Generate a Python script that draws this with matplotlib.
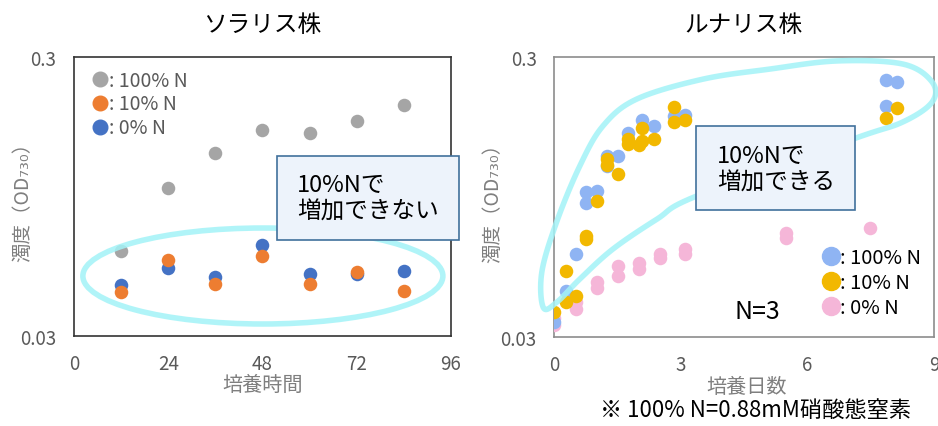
import numpy as np
import matplotlib
matplotlib.use("Agg")
import matplotlib.pyplot as plt
from matplotlib.patches import Ellipse, Rectangle, Polygon
from matplotlib.lines import Line2D

plt.rcParams['font.family'] = ['Noto Sans CJK JP', 'DejaVu Sans']

# ---- left chart: ソラリス株 (hours) ----
sol_hours = [12, 24, 36, 48, 60, 72, 84]
sol_100n = [0.0605, 0.102, 0.1356, 0.1647, 0.160, 0.177, 0.202]
sol_10n = [0.0430, 0.0563, 0.0460, 0.0579, 0.0460, 0.0510, 0.0435]
sol_0n = [0.0458, 0.0527, 0.0487, 0.0636, 0.0500, 0.0500, 0.0515]

# ---- right chart: ルナリス株 (days) ----
lun_100n_x = [0.0, 0.28, 0.52, 0.75, 0.75, 1.01, 1.25, 1.25, 1.52, 1.76, 2.09, 2.37, 2.84, 3.10, 7.87, 7.87, 8.12]
lun_100n_y = [0.034, 0.0439, 0.0594, 0.0985, 0.0903, 0.100, 0.133, 0.122, 0.133, 0.161, 0.179, 0.170, 0.184, 0.186, 0.249, 0.201, 0.245]
lun_10n_x = [0.0, 0.28, 0.28, 0.52, 0.75, 0.75, 1.01, 1.25, 1.25, 1.52, 1.76, 1.76, 2.02, 2.09, 2.09, 2.37, 2.84, 2.84, 3.10, 7.87, 8.12]
lun_10n_y = [0.0368, 0.0518, 0.0400, 0.0419, 0.069, 0.067, 0.092, 0.130, 0.123, 0.115, 0.153, 0.147, 0.145, 0.167, 0.151, 0.153, 0.1995, 0.176, 0.179, 0.181, 0.198]
lun_0n_x = [0.0, 0.0, 0.52, 0.52, 1.01, 1.01, 1.52, 1.52, 2.02, 2.02, 2.51, 2.51, 3.10, 3.10, 5.49, 5.49, 7.49]
lun_0n_y = [0.0350, 0.0331, 0.0400, 0.0378, 0.0470, 0.0449, 0.0536, 0.0497, 0.0551, 0.0527, 0.0594, 0.0574, 0.0618, 0.0594, 0.0703, 0.0677, 0.0735]

sol_labels = [': 100% N', ': 10% N', ': 0% N']
lun_labels = [': 100% N', ': 10% N', ': 0% N']

# colours
GRAY, ORANGE, BLUE = '#a5a5a5', '#ed7d31', '#4472c4'
LBLUE, GOLD, PINK = '#8fb4f3', '#f2b800', '#f5b6d8'
CYAN = '#a3f3f7'
BOX_FC, BOX_EC = '#edf3fb', '#41719c'
TICK_C, LABEL_C = '#595959', '#7f7f7f'

fig = plt.figure(figsize=(9.38, 4.27), dpi=100)
ax1 = fig.add_axes([0.0789, 0.2108, 0.4019, 0.6534])
ax2 = fig.add_axes([0.5906, 0.2084, 0.4051, 0.6557])

MS = 95


def style_axes(ax, edge, xpad, ypad):
    ax.set_yscale('log')
    ax.set_ylim(0.03, 0.3)
    ax.set_yticks([0.03, 0.3])
    ax.set_yticklabels(['0.03', '0.3'])
    ax.minorticks_off()
    ax.tick_params(axis='both', length=0, labelsize=13.5, labelcolor=TICK_C)
    ax.tick_params(axis='x', pad=xpad)
    ax.tick_params(axis='y', pad=ypad)
    for s in ax.spines.values():
        s.set_color(edge)
        s.set_linewidth(1.2)


# left chart
ax1.scatter(sol_hours, sol_0n, s=MS, color=BLUE, linewidths=0, zorder=3)
ax1.scatter(sol_hours, sol_10n, s=MS, color=ORANGE, linewidths=0, zorder=3)
ax1.scatter(sol_hours, sol_100n, s=MS, color=GRAY, linewidths=0, zorder=3)
ax1.set_xlim(0, 96)
ax1.set_xticks([0, 24, 48, 72, 96])
style_axes(ax1, '#333333', 12.5, 13)
ax1.set_xlabel('培養時間', fontsize=14.5, color=LABEL_C)
ax1.xaxis.set_label_coords(0.5, -0.135)
ax1.set_ylabel('濁度（OD₇₃₀）', fontsize=14, color=LABEL_C)
ax1.yaxis.set_label_coords(-0.108, 0.5)

h1 = [Line2D([], [], ls='', marker='o', ms=10.5, color=c) for c in (GRAY, ORANGE, BLUE)]
ax1.legend(h1, sol_labels, loc='upper left', bbox_to_anchor=(0.048, 0.955),
           frameon=False, fontsize=14, handlelength=0.85, handletextpad=0.0,
           labelspacing=0.15, borderpad=0, borderaxespad=0, labelcolor=TICK_C)

ax1.add_patch(Ellipse((0.501, 0.215), 0.955, 0.344, transform=ax1.transAxes,
                      fill=False, ec=CYAN, lw=4, alpha=0.85, zorder=4, clip_on=False))
ax1.add_patch(Rectangle((0.538, 0.344), 0.483, 0.301, transform=ax1.transAxes,
                        fc=BOX_FC, ec=BOX_EC, lw=1.2, zorder=5, clip_on=False))
ax1.text(0.592, 0.495, '10%Nで\n増加できない', transform=ax1.transAxes,
         fontsize=17, ha='left', va='center', linespacing=1.2, zorder=6)

# right chart
ax2.scatter(lun_0n_x, lun_0n_y, s=MS, color=PINK, linewidths=0, zorder=3)
ax2.scatter(lun_100n_x, lun_100n_y, s=MS, color=LBLUE, linewidths=0, zorder=3)
ax2.scatter(lun_10n_x, lun_10n_y, s=MS, color=GOLD, linewidths=0, zorder=3)
ax2.set_xlim(0, 9)
ax2.set_xticks([0, 3, 6, 9])
style_axes(ax2, '#8c8c8c', 12.5, 12.5)
ax2.set_xlabel('培養日数', fontsize=14.5, color=LABEL_C)
ax2.xaxis.set_label_coords(0.508, -0.139)
ax2.set_ylabel('濁度（OD₇₃₀）', fontsize=14, color=LABEL_C)
ax2.yaxis.set_label_coords(-0.134, 0.5)

h2 = [Line2D([], [], ls='', marker='o', ms=13, color=c) for c in (LBLUE, GOLD, PINK)]
ax2.legend(h2, lun_labels, loc='upper left', bbox_to_anchor=(0.705, 0.32),
           frameon=False, fontsize=14.5, handlelength=0.9, handletextpad=0.0,
           labelspacing=0.2, borderpad=0, borderaxespad=0)
ax2.text(0.534, 0.093, 'N=3', transform=ax2.transAxes, fontsize=18,
         ha='center', va='center')

# freehand loop around the growing cultures (axes fraction)
loop = np.array([
    (-0.028, 0.105), (-0.032, 0.232), (0.007, 0.411), (0.068, 0.611),
    (0.129, 0.754), (0.218, 0.850), (0.392, 0.921), (0.568, 0.957),
    (0.745, 0.986), (0.918, 0.975), (0.995, 0.911), (0.995, 0.839),
    (0.918, 0.768), (0.787, 0.707), (0.376, 0.504), (0.271, 0.421),
    (0.155, 0.314), (0.068, 0.207), (0.008, 0.125),
])
# periodic Catmull-Rom smoothing of the hand-drawn outline
n = len(loop)
pts = []
for i in range(n):
    p0, p1, p2, p3 = loop[i - 1], loop[i], loop[(i + 1) % n], loop[(i + 2) % n]
    for t in np.linspace(0, 1, 12, endpoint=False):
        t2, t3 = t * t, t * t * t
        pts.append(0.5 * ((2 * p1) + (-p0 + p2) * t + (2 * p0 - 5 * p1 + 4 * p2 - p3) * t2
                          + (-p0 + 3 * p1 - 3 * p2 + p3) * t3))
ax2.add_patch(Polygon(np.array(pts), closed=True, fill=False, ec=CYAN, lw=4,
                      alpha=0.85, joinstyle='round', transform=ax2.transAxes,
                      zorder=4, clip_on=False))
ax2.add_patch(Rectangle((0.374, 0.454), 0.418, 0.300, transform=ax2.transAxes,
                        fc=BOX_FC, ec=BOX_EC, lw=1.2, zorder=5, clip_on=False))
ax2.text(0.429, 0.602, '10%Nで\n増加できる', transform=ax2.transAxes,
         fontsize=17, ha='left', va='center', linespacing=1.2, zorder=6)

# titles and footnote
fig.text(0.279, 0.941, 'ソラリス株', fontsize=17, ha='center', va='center')
fig.text(0.793, 0.941, 'ルナリス株', fontsize=17, ha='center', va='center')
fig.text(0.805, 0.040, '※ 100% N=0.88mM硝酸態窒素', fontsize=16, ha='center', va='center')

fig.savefig('out.png', dpi=100)
